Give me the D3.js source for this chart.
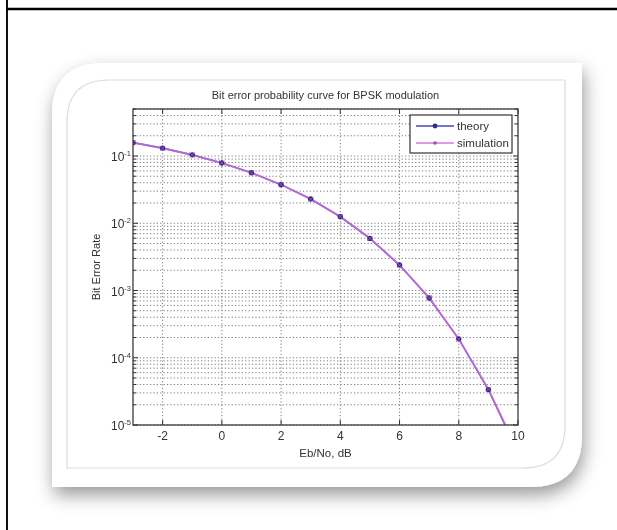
<!DOCTYPE html>
<html>
<head>
<meta charset="utf-8">
<script src="https://cdn.jsdelivr.net/npm/d3@7"></script>
<style>
    body { margin: 0; background: #fff; }
    text { font-family: "Liberation Sans", Arial, sans-serif; fill: #333; }
</style>
</head>
<body>
<svg id="chart" width="617" height="530"></svg>
<script>
// values
var ebNo = [-3, -2, -1, 0, 1, 2, 3, 4, 5, 6, 7, 8, 9, 10];
var theoryBer = [0.158, 0.131, 0.104, 0.0786, 0.0563, 0.0375, 0.0229, 0.0125,
                 0.00595, 0.00239, 0.000773, 0.000191, 0.0000336, 0.0000039];
var simBer = [0.1583, 0.1304, 0.1039, 0.0789, 0.0561, 0.0377, 0.0228, 0.0126,
              0.00597, 0.00238, 0.000781, 0.000188, 0.0000342, 0.0000041];
var xTicks = [-2, 0, 2, 4, 6, 8, 10];
var yTicks = [1e-1, 1e-2, 1e-3, 1e-4, 1e-5];
var yTickExp = ["-1", "-2", "-3", "-4", "-5"];
var seriesNames = ["theory", "simulation"];

var svg = d3.select("#chart");
var defs = svg.append("defs");

// page frame (table cell borders)
svg.append("line").attr("x1", 7).attr("x2", 7).attr("y1", 0).attr("y2", 530)
    .style("stroke", "#111").style("stroke-width", 2);
svg.append("line").attr("x1", 7).attr("x2", 617).attr("y1", 9).attr("y2", 9)
    .style("stroke", "#000").style("stroke-width", 2.5);

// photo frame with rounded top-left / bottom-right corners
function framePath(x0, y0, x1, y1, r)
{
    return "M" + x0 + "," + (y0 + r) +
        "Q" + x0 + "," + y0 + " " + (x0 + r) + "," + y0 +
        "L" + x1 + "," + y0 +
        "L" + x1 + "," + (y1 - r) +
        "Q" + x1 + "," + y1 + " " + (x1 - r) + "," + y1 +
        "L" + x0 + "," + y1 + "Z";
}

var shadow = defs.append("filter").attr("id", "shadow")
    .attr("x", "-20%").attr("y", "-20%").attr("width", "140%").attr("height", "140%");
shadow.append("feDropShadow").attr("dx", 2).attr("dy", 8).attr("stdDeviation", 9)
    .attr("flood-color", "#000").attr("flood-opacity", 0.4);

var soft = defs.append("filter").attr("id", "soft");
soft.append("feGaussianBlur").attr("stdDeviation", 0.45);

svg.append("path")
    .attr("d", framePath(52, 63, 582, 487, 52))
    .style("fill", "#fff")
    .attr("filter", "url(#shadow)");

svg.append("path")
    .attr("d", framePath(67, 80, 565, 468, 42))
    .style("fill", "#fff").style("stroke", "#ddd").style("stroke-width", 1.2);

// ---------------------------------------------------------------------------
// the MATLAB plot

var axL = 133, axR = 518, axT = 109, axB = 425;

var x = d3.scaleLinear().domain([-3, 10]).range([axL, axR]);
var y = d3.scaleLog().domain([1e-5, 0.5]).range([axB, axT]);

var plot = svg.append("g").attr("filter", "url(#soft)");

defs.append("clipPath").attr("id", "axclip")
    .append("rect").attr("x", axL).attr("y", axT)
    .attr("width", axR - axL).attr("height", axB - axT);

// grid: minor + major horizontal, major vertical
var yMinor = y.ticks().filter(function (d) { return d <= 0.5; });

plot.selectAll(".hgrid").data(yMinor).enter().append("line")
    .attr("x1", axL).attr("x2", axR)
    .attr("y1", function (d) { return y(d); })
    .attr("y2", function (d) { return y(d); })
    .style("stroke", "#7a7a7a").style("stroke-width", 1)
    .style("stroke-dasharray", "1.2,2.2");

plot.selectAll(".vgrid").data(xTicks.slice(0, -1)).enter().append("line")
    .attr("x1", function (d) { return x(d); })
    .attr("x2", function (d) { return x(d); })
    .attr("y1", axT).attr("y2", axB)
    .style("stroke", "#7a7a7a").style("stroke-width", 1)
    .style("stroke-dasharray", "1.2,2.2");

// tick marks inside the box
plot.selectAll(".ytickL").data(yMinor).enter().append("line")
    .attr("x1", axL).attr("x2", function (d) {
        return axL + (yTicks.indexOf(d) >= 0 ? 5 : 3);
    })
    .attr("y1", function (d) { return y(d); })
    .attr("y2", function (d) { return y(d); })
    .style("stroke", "#333");

plot.selectAll(".ytickR").data(yMinor).enter().append("line")
    .attr("x1", axR).attr("x2", function (d) {
        return axR - (yTicks.indexOf(d) >= 0 ? 5 : 3);
    })
    .attr("y1", function (d) { return y(d); })
    .attr("y2", function (d) { return y(d); })
    .style("stroke", "#333");

plot.selectAll(".xtickB").data(xTicks).enter().append("line")
    .attr("x1", function (d) { return x(d); })
    .attr("x2", function (d) { return x(d); })
    .attr("y1", axB).attr("y2", axB - 5)
    .style("stroke", "#333");

plot.selectAll(".xtickT").data(xTicks).enter().append("line")
    .attr("x1", function (d) { return x(d); })
    .attr("x2", function (d) { return x(d); })
    .attr("y1", axT).attr("y2", axT + 5)
    .style("stroke", "#333");

// curves
var line = d3.line()
    .x(function (d) { return x(d[0]); })
    .y(function (d) { return y(d[1]); });

var curves = plot.append("g").attr("clip-path", "url(#axclip)");

curves.append("path")
    .datum(d3.zip(ebNo, theoryBer))
    .attr("d", line)
    .style("fill", "none").style("stroke", "#4848b0").style("stroke-width", 1.6);

curves.append("path")
    .datum(d3.zip(ebNo, simBer))
    .attr("d", line)
    .style("fill", "none").style("stroke", "#d070dc").style("stroke-width", 1.9)
    .style("opacity", 0.8);

curves.selectAll(".dot").data(d3.zip(ebNo, theoryBer)).enter().append("circle")
    .attr("cx", function (d) { return x(d[0]); })
    .attr("cy", function (d) { return y(d[1]); })
    .attr("r", 2.7)
    .style("fill", "#2f2a86");

curves.selectAll(".cross").data(d3.zip(ebNo, simBer)).enter().append("path")
    .attr("d", function (d) {
        var cx = x(d[0]), cy = y(d[1]), s = 2.5;
        return "M" + (cx - s) + "," + (cy - s) + "L" + (cx + s) + "," + (cy + s) +
            "M" + (cx - s) + "," + (cy + s) + "L" + (cx + s) + "," + (cy - s);
    })
    .style("stroke", "#a050b8").style("stroke-width", 1);

// axes box
plot.append("rect")
    .attr("x", axL).attr("y", axT)
    .attr("width", axR - axL).attr("height", axB - axT)
    .style("fill", "none").style("stroke", "#3a3a3a").style("stroke-width", 1.3);

// tick labels
plot.selectAll(".xlab").data(xTicks).enter().append("text")
    .attr("x", function (d) { return x(d); })
    .attr("y", axB + 15)
    .attr("text-anchor", "middle")
    .style("font-size", "12px")
    .text(function (d) { return d; });

var yl = plot.selectAll(".ylab").data(yTicks).enter().append("text")
    .attr("x", 111)
    .attr("y", function (d) { return y(d) + 5; })
    .style("font-size", "12px");
yl.append("tspan").text("10");
yl.append("tspan").attr("dy", -5).style("font-size", "7.5px")
    .text(function (d, i) { return yTickExp[i]; });

// labels
plot.append("text")
    .attr("x", (axL + axR) / 2).attr("y", 99)
    .attr("text-anchor", "middle")
    .style("font-size", "11px")
    .text("Bit error probability curve for BPSK modulation");

plot.append("text")
    .attr("x", (axL + axR) / 2).attr("y", 457)
    .attr("text-anchor", "middle")
    .style("font-size", "11.5px")
    .text("Eb/No, dB");

plot.append("text")
    .attr("transform", "translate(100," + ((axT + axB) / 2) + ") rotate(-90)")
    .attr("text-anchor", "middle")
    .style("font-size", "11px")
    .text("Bit Error Rate");

// legend
var legend = plot.append("g").attr("transform", "translate(410,115)");

legend.append("rect")
    .attr("width", 102).attr("height", 38)
    .style("fill", "#fff").style("stroke", "#333").style("stroke-width", 1.2);

var entry = legend.selectAll(".entry").data(seriesNames).enter().append("g")
    .attr("transform", function (d, i) { return "translate(0," + (11 + i * 17) + ")"; });

entry.append("line")
    .attr("x1", 6).attr("x2", 44).attr("y1", 0).attr("y2", 0)
    .style("stroke", function (d, i) { return ["#4848b0", "#d07ad8"][i]; })
    .style("stroke-width", 1.6);

entry.append("circle")
    .attr("cx", 25).attr("cy", 0).attr("r", function (d, i) { return [2.4, 1.8][i]; })
    .style("fill", function (d, i) { return ["#2f2a86", "#a050b8"][i]; });

entry.append("text")
    .attr("x", 47).attr("y", 4)
    .style("font-size", "11.5px")
    .text(function (d) { return d; });
</script>
</body>
</html>
